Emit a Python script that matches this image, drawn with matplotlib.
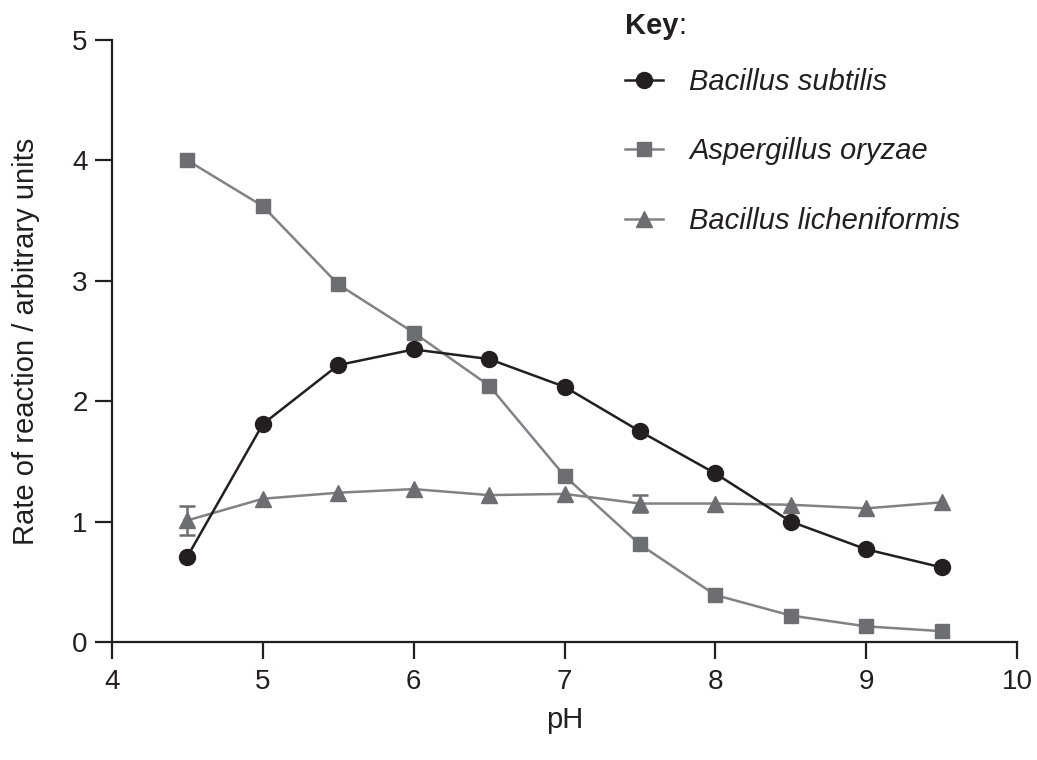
import matplotlib
matplotlib.use("Agg")
import matplotlib.pyplot as plt

plt.rcParams['font.family'] = ['Liberation Sans', 'DejaVu Sans']

ph = [4.5, 5, 5.5, 6, 6.5, 7, 7.5, 8, 8.5, 9, 9.5]
subtilis = [0.71, 1.81, 2.30, 2.43, 2.35, 2.12, 1.75, 1.40, 1.00, 0.77, 0.62]
oryzae = [4.00, 3.62, 2.97, 2.57, 2.13, 1.38, 0.81, 0.39, 0.22, 0.13, 0.09]
licheniformis = [1.01, 1.19, 1.24, 1.27, 1.22, 1.23, 1.15, 1.15, 1.14, 1.11, 1.16]
licheniformis_err = [0.12, 0, 0, 0, 0, 0, 0.07, 0, 0, 0, 0]

labels = ["Bacillus subtilis", "Aspergillus oryzae", "Bacillus licheniformis"]

BLACK = "#231f20"
GREY = "#6d6e71"
LINEGREY = "#808285"
FS = 21

fig = plt.figure(figsize=(10.37, 7.6), dpi=100)
ax = fig.add_axes([112/1037, 1 - 642/760, (1017-112)/1037, (642-40)/760])

# error bars first (only where there is one)
x_e = [x for x, e in zip(ph, licheniformis_err) if e > 0]
y_e = [y for y, e in zip(licheniformis, licheniformis_err) if e > 0]
e_e = [e for e in licheniformis_err if e > 0]
ax.errorbar(x_e, y_e, yerr=e_e, fmt="none", ecolor=GREY, elinewidth=1.8,
            capsize=6, capthick=1.8, zorder=2)

l3, = ax.plot(ph, licheniformis, color=LINEGREY, lw=1.8, marker="^",
              ms=11, mfc=GREY, mec=GREY, zorder=3)
l2, = ax.plot(ph, oryzae, color=LINEGREY, lw=1.8, marker="s",
              ms=10.5, mfc=GREY, mec=GREY, zorder=4)
l1, = ax.plot(ph, subtilis, color=BLACK, lw=1.8, marker="o",
              ms=11.5, mfc=BLACK, mec=BLACK, zorder=5)

ax.set_xlim(4, 10)
ax.set_ylim(0, 5)
ax.set_xticks(range(4, 11))
ax.set_yticks(range(0, 6))
for s in ["top", "right"]:
    ax.spines[s].set_visible(False)
for s in ["left", "bottom"]:
    ax.spines[s].set_linewidth(1.6)
    ax.spines[s].set_color(BLACK)
ax.tick_params(axis="both", length=12.5, width=1.6, color=BLACK,
               labelsize=20, labelcolor=BLACK)
ax.tick_params(axis="x", pad=7)
ax.tick_params(axis="y", pad=5)

ax.set_xlabel("pH", fontsize=FS, color=BLACK, va="center")
ax.xaxis.set_label_coords(0.5, -(720 - 642) / 602)
ax.set_ylabel("Rate of reaction / arbitrary units", fontsize=FS,
              color=BLACK, va="center")
ax.yaxis.set_label_coords(-(112 - 26) / 905, 0.5)

leg = ax.legend([l1, l2, l3], labels, loc="upper left",
                bbox_to_anchor=(625/1037, 1 - 68/760),
                bbox_transform=fig.transFigure, frameon=False,
                prop={"size": FS, "style": "italic"}, handlelength=1.3,
                handletextpad=0.9, labelspacing=1.42, borderaxespad=0,
                borderpad=0, markerscale=1.0)
for t in leg.get_texts():
    t.set_color(BLACK)

key = fig.text(625/1037, 1 - 26/760, "Key", fontsize=FS, fontweight="bold",
               color=BLACK, va="center", ha="left")
ax.annotate(":", xy=(1, 0.5), xycoords=key, va="center", ha="left",
            fontsize=FS, color=BLACK)

fig.savefig("out.png", dpi=100)
